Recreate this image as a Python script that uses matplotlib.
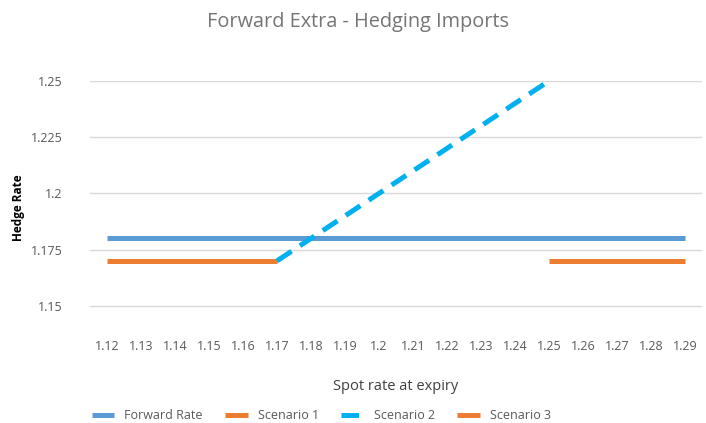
import numpy as np
import matplotlib
matplotlib.use('Agg')
import matplotlib.pyplot as plt

plt.rcParams['font.family'] = ['Open Sans', 'DejaVu Sans']

spot = ['1.12', '1.13', '1.14', '1.15', '1.16', '1.17', '1.18', '1.19', '1.2',
        '1.21', '1.22', '1.23', '1.24', '1.25', '1.26', '1.27', '1.28', '1.29']
nan = np.nan
forward_rate = [1.18] * 18
scenario1 = [1.17, 1.17, 1.17, 1.17, 1.17, 1.17] + [nan] * 12
scenario2 = [nan] * 5 + [1.17, 1.18, 1.19, 1.20, 1.21, 1.22, 1.23, 1.24, 1.25] + [nan] * 4
scenario3 = [nan] * 13 + [1.17, 1.17, 1.17, 1.17, 1.17]
yticks = [1.15, 1.175, 1.2, 1.225, 1.25]
ytick_labels = ['1.15', '1.175', '1.2', '1.225', '1.25']

fig = plt.figure(figsize=(7.06, 4.23), dpi=100)
ax = fig.add_axes([0.1275, 0.2104, 0.8665, 0.5981])
x = np.arange(len(spot))
tc = '#595959'

ax.plot(x, forward_rate, color='#5B9BD5', lw=3.6, solid_capstyle='butt', label='Forward Rate')
ax.plot(x, scenario1, color='#ED7D31', lw=3.6, solid_capstyle='butt', label='Scenario 1')
ax.plot(x, scenario2, color='#00B0F0', lw=3.6, dashes=(3.5, 2), dash_capstyle='butt', label='Scenario 2')
ax.plot(x, scenario3, color='#ED7D31', lw=3.6, solid_capstyle='butt', label='Scenario 3')

ax.set_xlim(-0.5, 17.5)
ax.set_ylim(1.1375, 1.25)
ax.set_yticks(yticks)
ax.set_yticklabels(ytick_labels)
ax.set_xticks(x)
ax.set_xticklabels(spot)
ax.grid(axis='y', color='#D9D9D9', lw=1)
ax.set_axisbelow(True)
for s in ax.spines.values():
    s.set_visible(False)
ax.tick_params(length=0, colors=tc, labelsize=9)
ax.tick_params(axis='x', pad=4)
ax.tick_params(axis='y', pad=20)

ax.set_xlabel('Spot rate at expiry', color='#404040', fontsize=10.5, labelpad=19)
ax.set_ylabel('Hedge Rate', color='#000000', fontsize=8.5, fontweight='bold', labelpad=4)
fig.text(0.507, 0.948, 'Forward Extra - Hedging Imports', ha='center', va='center',
         color='#757575', fontsize=14.3)

fig.legend(loc='center', bbox_to_anchor=(0.455, 0.018), ncol=4, frameon=False,
           fontsize=9, labelcolor=tc, handlelength=1.8, handletextpad=0.8,
           columnspacing=1.8, borderpad=0, borderaxespad=0)

fig.savefig('out.png', dpi=100)
